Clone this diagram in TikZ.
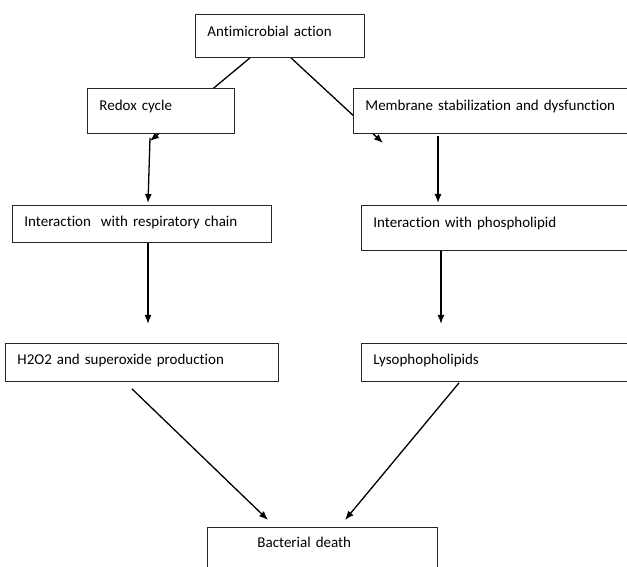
\documentclass[tikz,border=0pt]{standalone}
\usepackage{fontspec}
\setmainfont{Carlito}[Ligatures=NoCommon]
\usetikzlibrary{arrows.meta,calc,backgrounds}
\begin{document}
\begin{tikzpicture}[x=1pt,y=-1pt,
  box/.style={draw=black!85,line width=0.9pt,fill=white,anchor=north west,inner xsep=12pt,inner ysep=0pt,align=left,font=\fontsize{15}{18}\selectfont},
  arr/.style={line width=1.3pt,-{Latex[length=9pt,width=7pt]}}]
\useasboundingbox (0,0) rectangle (627,567);
\node[box,text width=145pt,text height=22pt,text depth=21pt] (anti) at (195,14) {Antimicrobial action};
\node[box,text width=123pt,text height=22pt,text depth=23pt] (redox) at (87,88) {Redox cycle};
\node[box,text width=270pt,text height=22pt,text depth=23pt] (memb) at (353,88) {Membrane stabilization and dysfunction};
\node[box,text width=235pt,text height=21pt,text depth=16pt] (resp) at (12,205) {Interaction\ \ with respiratory chain};
\node[box,text width=270pt,text height=22pt,text depth=23pt] (phos) at (361,205) {Interaction with phospholipid};
\node[box,text width=249pt,text height=21pt,text depth=17pt] (h2o2) at (5,343) {H2O2 and superoxide production};
\node[box,text width=270pt,text height=21pt,text depth=17pt] (lyso) at (361,343) {Lysophopholipids};
\node[box,text width=206pt,text height=20pt,text depth=30pt] (death) at (207,527) {\hspace*{38pt}Bacterial death};
\coordinate (e1) at (150,141);
\coordinate (e2) at (383,143);
\begin{scope}[on background layer]
\draw[arr] ($(anti.south west)+(55,0)$) -- (e1);
\draw[arr] ($(anti.south west)+(96,0)$) -- (e2);
\end{scope}
\draw[arr] ($(redox.south west)+(63,4)$) -- ($(resp.north west)+(136,-2)$);
\draw[arr] ($(memb.south west)+(85,2)$) -- ($(phos.north west)+(77,-2)$);
\draw[arr] ($(resp.south west)+(136,0)$) -- ($(resp.south west)+(136,81)$);
\draw[arr] ($(phos.south west)+(80,0)$) -- ($(phos.south west)+(80,73)$);
\draw[arr] ($(h2o2.south west)+(127,7)$) -- ($(death.north west)+(61,-7)$);
\draw[arr] ($(lyso.south west)+(98,1)$) -- ($(death.north west)+(138,-7)$);
\end{tikzpicture}
\end{document}
